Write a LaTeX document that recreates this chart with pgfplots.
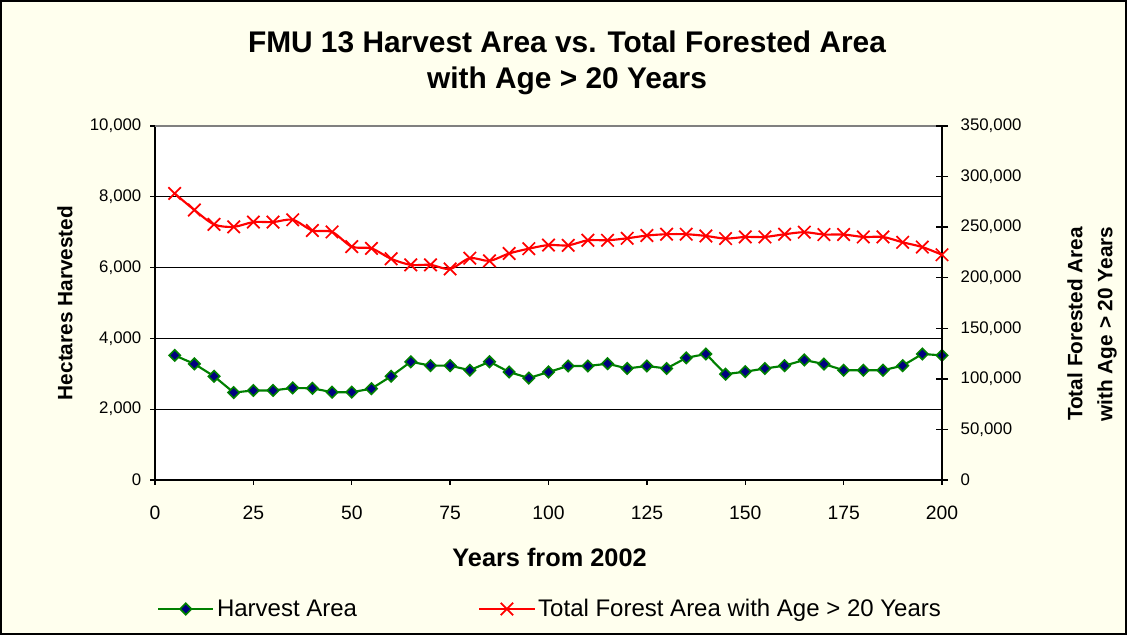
\documentclass[border=0pt]{standalone}
\usepackage{fontspec}
\setmainfont{Liberation Sans}
\usepackage{pgfplots}
\pgfplotsset{compat=1.18}
\definecolor{cream}{RGB}{255,255,238}
\definecolor{xgreen}{RGB}{0,128,0}
\definecolor{xnavy}{RGB}{0,0,128}
\definecolor{xred}{RGB}{255,0,0}
\begin{document}
\begin{tikzpicture}
\useasboundingbox (0,0) rectangle (845.25pt,476.25pt);
\fill[cream] (0,0) rectangle (845.25pt,476.25pt);
\draw[black, line width=1.5pt] (0.75pt,0.75pt) rectangle (844.5pt,475.5pt);
\begin{axis}[
 at={(116.25pt,116.25pt)}, anchor=south west,
 scale only axis, width=590.25pt, height=265.5pt,
 xmin=0,xmax=200, ymin=0,ymax=10000,
 xtick={0,25,...,200}, ytick={0,2000,4000,6000,8000,10000},
 axis x line*=bottom, axis y line*=left,
 axis line style={line width=1.4pt},
 tick align=outside, major tick length=3.75pt,
 tick style={black, line width=1pt},
 ymajorgrids, grid style={black, line width=0.75pt},
 axis background/.style={fill=white},
 scaled y ticks=false, scaled x ticks=false,
 /pgf/number format/.cd, fixed, precision=0, 1000 sep={,}, assume math mode=true, /pgfplots/.cd,
 yticklabel style={font=\fontsize{12.6}{14}\selectfont, xshift=-3pt},
 xticklabel style={font=\fontsize{14.5}{16}\selectfont, yshift=-12pt},
 clip=false,
]
\draw[gray, line width=1.2pt] (rel axis cs:0,1) -- (rel axis cs:1,1);
\addplot[xgreen, line width=1.6pt, mark=square*, mark size=3pt,
  mark options={rotate=45, fill=xnavy, draw=xgreen, line width=1.2pt, solid}]
coordinates {
(5,3520) (10,3280) (15,2930) (20,2470) (25,2530) (30,2530) (35,2600) (40,2590)
(45,2480) (50,2480) (55,2580) (60,2930) (65,3340) (70,3230) (75,3230) (80,3100)
(85,3340) (90,3050) (95,2880) (100,3050) (105,3220) (110,3220) (115,3285) (120,3150)
(125,3220) (130,3150) (135,3450) (140,3560) (145,2990) (150,3060) (155,3150) (160,3230)
(165,3390) (170,3275) (175,3100) (180,3100) (185,3100) (190,3230) (195,3560) (200,3520)
};
\end{axis}
\begin{axis}[
 at={(116.25pt,116.25pt)}, anchor=south west,
 scale only axis, width=590.25pt, height=265.5pt,
 xmin=0,xmax=200, ymin=0,ymax=350000,
 ytick={0,50000,100000,150000,200000,250000,300000,350000},
 axis y line*=right, axis x line=none,
 axis line style={line width=1.4pt},
 tick align=center, major tick length=9pt,
 tick style={black, line width=1pt},
 scaled y ticks=false,
 /pgf/number format/.cd, fixed, precision=0, 1000 sep={,}, assume math mode=true, /pgfplots/.cd,
 yticklabel style={font=\fontsize{12.6}{14}\selectfont, xshift=6pt},
 clip=false,
 legend columns=2,
 legend cell align=left,
 legend style={at={(0.0025,-0.3644)}, anchor=west, draw=none, fill=none,
   font=\fontsize{18}{20}\selectfont, inner sep=0pt,
   /tikz/every even column/.append style={column sep=89pt}},
 legend image code/.code={\draw[mark repeat=2,mark phase=2,#1] plot coordinates {(0pt,0pt) (20.6pt,0pt) (41.25pt,0pt)};},
]
\addlegendimage{xgreen, line width=1.6pt, mark=square*, mark size=3pt,
  mark options={rotate=45, fill=xnavy, draw=xgreen, line width=1.2pt, solid}}
\addlegendentry{Harvest Area}
\addplot[xred, line width=1.6pt, smooth, tension=0.5, mark=x, mark size=6.6pt,
  mark options={solid, line width=1.3pt}]
coordinates {
(5,283300) (10,267000) (15,252700) (20,250300) (25,255000) (30,255000) (35,257300) (40,246700)
(45,245300) (50,230700) (55,229000) (60,218700) (65,212700) (70,212700) (75,208700) (80,219300)
(85,216700) (90,224000) (95,228700) (100,232300) (105,232000) (110,237000) (115,237000) (120,239000)
(125,241700) (130,243000) (135,243000) (140,241300) (145,238700) (150,240300) (155,240300) (160,243000)
(165,245000) (170,242700) (175,242700) (180,240300) (185,240300) (190,235000) (195,230300) (200,222700)
};
\addlegendentry{Total Forest Area with Age > 20 Years}
\end{axis}
\node[anchor=base, font=\fontsize{22.4}{26}\selectfont\bfseries] at (425.25pt,436.8pt) {FMU 13 Harvest Area vs. Total Forested Area};
\node[anchor=base, font=\fontsize{22.4}{26}\selectfont\bfseries] at (425.25pt,410pt) {with Age > 20 Years};
\node[anchor=base, font=\fontsize{19}{22}\selectfont\bfseries] at (412.2pt,51.2pt) {Years from 2002};
\node[rotate=90, font=\fontsize{15.6}{18}\selectfont\bfseries] at (48.75pt,249pt) {Hectares Harvested};
\node[rotate=90, align=center, font=\fontsize{15.6}{22.5}\selectfont\bfseries] at (819pt,233.25pt) {Total Forested Area\\with Age > 20 Years};
\end{tikzpicture}
\end{document}
